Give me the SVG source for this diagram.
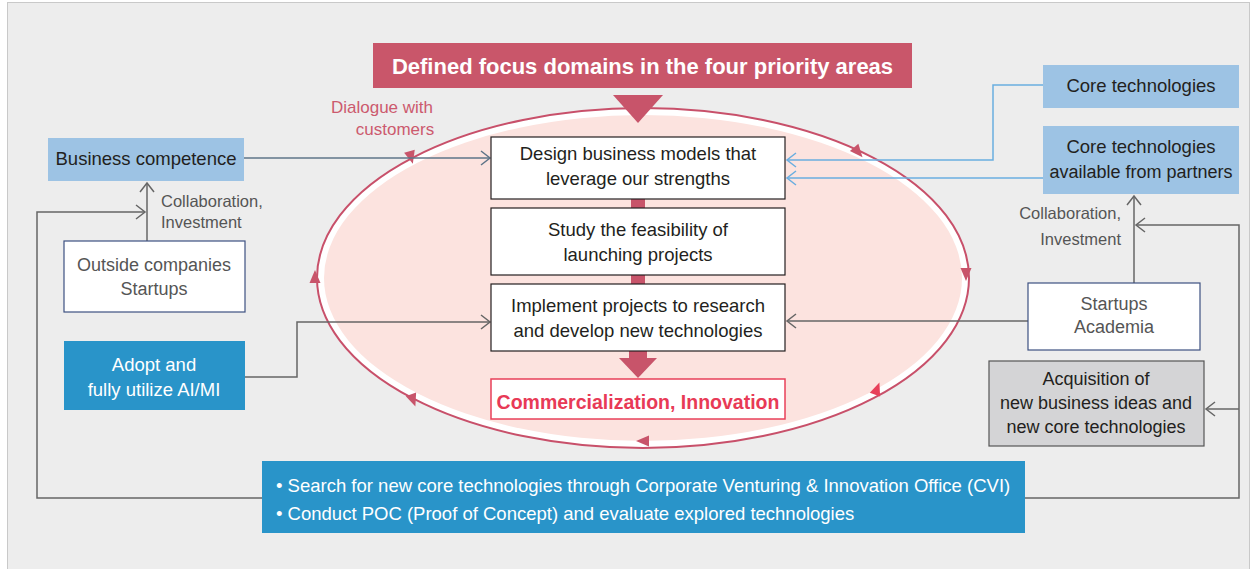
<svg xmlns="http://www.w3.org/2000/svg" width="1254" height="569" viewBox="0 0 1254 569">
<style>
text{font-family:"Liberation Sans",Arial,sans-serif;}
.dk{fill:#231f20;font-size:18.5px;text-anchor:middle;}
.gy{fill:#555;font-size:18px;text-anchor:middle;}
.wt{fill:#fff;font-size:18.5px;text-anchor:middle;}
.cl16{fill:#555;font-size:16.5px;}
.box{fill:#fff;stroke:#231f20;stroke-width:1.2;}
.lb{fill:#9dc3e4;}
.db{fill:#2994c9;}
.ob{fill:#fff;stroke:#3d5081;stroke-width:1.2;}
.cg{fill:none;stroke:#666;stroke-width:1.5;}
.cb{fill:none;stroke:#5e7488;stroke-width:1.5;}
.cl{fill:none;stroke:#6aaee0;stroke-width:1.5;}
.red{fill:#c8546a;}
</style>
<defs>
<marker id="ag" markerUnits="userSpaceOnUse" markerWidth="12" markerHeight="16" refX="10" refY="8" orient="auto"><path d="M1,1 L10,8 L1,15" fill="none" stroke="#666" stroke-width="1.5"/></marker>
<marker id="ab" markerUnits="userSpaceOnUse" markerWidth="12" markerHeight="16" refX="10" refY="8" orient="auto"><path d="M1,1 L10,8 L1,15" fill="none" stroke="#5e7488" stroke-width="1.5"/></marker>
<marker id="al" markerUnits="userSpaceOnUse" markerWidth="12" markerHeight="16" refX="10" refY="8" orient="auto"><path d="M1,1 L10,8 L1,15" fill="none" stroke="#6aaee0" stroke-width="1.5"/></marker>
<path id="tri" d="M-5.5,-6 L5.5,-6 L0,7 Z"/>
</defs>
<rect x="0" y="0" width="1254" height="569" fill="#fff"/>
<rect x="7.5" y="2.5" width="1242" height="580" fill="#ededed" stroke="#c9c9c9" stroke-width="1"/>

<g id="cycle">
<ellipse cx="643" cy="278" rx="326" ry="170" fill="#fff" stroke="#c8506a" stroke-width="2"/>
<ellipse cx="643" cy="278" rx="319" ry="163" fill="#fce3df"/>
<g class="red">
<use href="#tri" transform="translate(411,157) rotate(-15)"/>
<use href="#tri" transform="translate(858,152) rotate(-40)"/>
<use href="#tri" transform="translate(966,274) rotate(0)"/>
<use href="#tri" transform="translate(643,441) rotate(90)"/>
<use href="#tri" transform="translate(413,400) rotate(-20)"/>
<use href="#tri" transform="translate(315,277) rotate(180)"/>
</g>
<use href="#tri" transform="translate(877,389) rotate(-160)" fill="#e8405a"/>
</g>

<g id="title">
<rect x="373" y="43" width="539" height="45" fill="#c9566a"/>
<text x="642.5" y="73.5" font-size="22" font-weight="bold" fill="#fff" text-anchor="middle">Defined focus domains in the four priority areas</text>
<polygon points="613,95 663,95 638,123" fill="#c8546a"/>
</g>

<g id="connectors">
<path class="cb" d="M244,158 H490" marker-end="url(#ab)"/>
<path class="cg" d="M147,241 V183" marker-end="url(#ag)"/>
<path class="cg" d="M262,498 H37 V212 H145" marker-end="url(#ag)"/>
<path class="cg" d="M245,377 H297 V322 H490" marker-end="url(#ag)"/>
<path class="cl" d="M1043,85 H993 V160 H787" marker-end="url(#al)"/>
<path class="cl" d="M1043,178 H787" marker-end="url(#al)"/>
<path class="cg" d="M1134,283 V196" marker-end="url(#ag)"/>
<path class="cg" d="M1028,321 H787" marker-end="url(#ag)"/>
<path class="cg" d="M1025,498 H1239 V225 H1136" marker-end="url(#ag)"/>
<path class="cg" d="M1239,409 H1206" marker-end="url(#ag)"/>
<rect class="red" x="631" y="199" width="14" height="9"/>
<rect class="red" x="631" y="275" width="14" height="9"/>
<rect class="red" x="629" y="351" width="18" height="8"/>
<polygon class="red" points="619,358 657,358 638,378"/>
</g>

<g id="dialogue">
<text x="382" y="113" font-size="17" fill="#cc5a6e" text-anchor="middle">Dialogue with</text>
<text x="395" y="135" font-size="17" fill="#cc5a6e" text-anchor="middle">customers</text>
</g>

<g id="design">
<rect class="box" x="491" y="137" width="294" height="62"/>
<text class="dk" x="638" y="160">Design business models that</text>
<text class="dk" x="638" y="185">leverage our strengths</text>
</g>
<g id="study">
<rect class="box" x="491" y="208" width="294" height="67"/>
<text class="dk" x="638" y="236">Study the feasibility of</text>
<text class="dk" x="638" y="261">launching projects</text>
</g>
<g id="implement">
<rect class="box" x="491" y="284" width="294" height="67"/>
<text class="dk" x="638" y="312">Implement projects to research</text>
<text class="dk" x="638" y="337">and develop new technologies</text>
</g>
<g id="commercialization">
<rect x="491" y="379" width="294" height="40" fill="#fff" stroke="#e8405a" stroke-width="1.5"/>
<text x="638" y="408.5" font-size="19.5" font-weight="bold" fill="#e83a56" text-anchor="middle">Commercialization, Innovation</text>
</g>

<g id="business-competence">
<rect class="lb" x="48" y="138" width="196" height="43"/>
<text class="dk" x="146" y="165">Business competence</text>
</g>
<g id="collab-left">
<text class="cl16" x="161" y="207">Collaboration,</text>
<text class="cl16" x="161" y="228">Investment</text>
</g>
<g id="outside">
<rect class="ob" x="64" y="241" width="181" height="71"/>
<text class="gy" x="154" y="271">Outside companies</text>
<text class="gy" x="154" y="295">Startups</text>
</g>
<g id="adopt">
<rect class="db" x="64" y="341" width="181" height="69"/>
<text class="wt" x="154" y="371">Adopt and</text>
<text class="wt" x="154" y="396">fully utilize AI/MI</text>
</g>

<g id="core">
<rect class="lb" x="1043" y="65" width="196" height="43"/>
<text class="dk" x="1141" y="92">Core technologies</text>
</g>
<g id="core-partners">
<rect class="lb" x="1043" y="126" width="196" height="68"/>
<text class="dk" x="1141" y="153">Core technologies</text>
<text class="dk" x="1141" y="178" style="font-size:18px">available from partners</text>
</g>
<g id="collab-right">
<text class="cl16" x="1121" y="219" text-anchor="end">Collaboration,</text>
<text class="cl16" x="1121" y="245" text-anchor="end">Investment</text>
</g>
<g id="startups">
<rect class="ob" x="1028" y="283" width="172" height="67"/>
<text class="gy" x="1114" y="310">Startups</text>
<text class="gy" x="1114" y="333">Academia</text>
</g>
<g id="acquisition">
<rect x="989" y="361" width="215" height="85" fill="#d4d4d6" stroke="#555" stroke-width="1.2"/>
<text class="dk" x="1096" y="385" style="font-size:18px">Acquisition of</text>
<text class="dk" x="1096" y="409" style="font-size:18px">new business ideas and</text>
<text class="dk" x="1096" y="433" style="font-size:18px">new core technologies</text>
</g>

<g id="cvi">
<rect class="db" x="262" y="461" width="763" height="72"/>
<text x="276" y="492" font-size="18.5" fill="#fff">• Search for new core technologies through Corporate Venturing &amp; Innovation Office (CVI)</text>
<text x="276" y="520" font-size="18.5" fill="#fff">• Conduct POC (Proof of Concept) and evaluate explored technologies</text>
</g>
</svg>
